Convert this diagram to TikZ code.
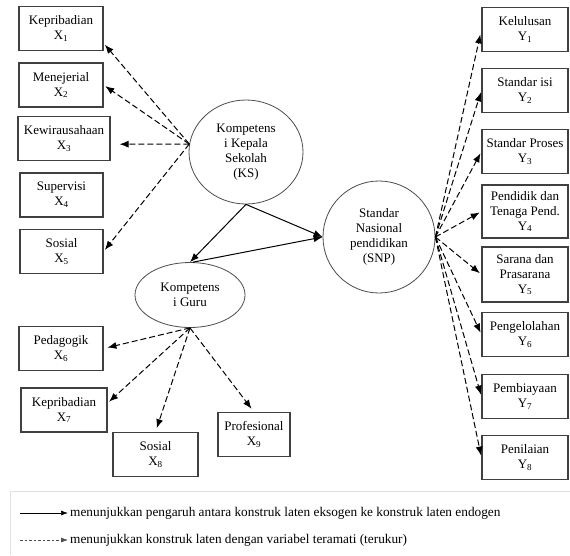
\documentclass[tikz,border=0pt]{standalone}
\usepackage{fontspec}
\setmainfont{Liberation Serif}
\usetikzlibrary{shapes.geometric}
\usetikzlibrary{arrows.meta}
\newcommand{\teks}{\fontsize{13}{15}\selectfont}
\tikzset{indik/.style={rectangle, draw=black!75, line width=1.1pt, align=center, inner sep=0pt, minimum width=84pt, minimum height=44pt, font=\teks}}
\tikzset{laten/.style={ellipse, draw=black!70, line width=0.8pt, align=center, inner sep=0pt, font=\teks}}
\tikzset{jalur/.style={line width=1pt, -{Latex[length=9pt,width=7pt]}}}
\tikzset{muat/.style={jalur, dash pattern=on 6pt off 3pt, shorten >=2pt}}

\begin{document}
\begin{tikzpicture}[x=1pt,y=-1pt]
\useasboundingbox (0,0) rectangle (570,555);

\node[laten, minimum width=114pt, minimum height=104pt] (ks) at (246,152) {Kompetens\\i Kepala\\Sekolah\\(KS)};
\node[laten, minimum width=110pt, minimum height=65pt] (kg) at (190,295) {Kompetens\\i Guru};
\node[laten, minimum width=112pt, minimum height=112pt] (snp) at (379,237) {Standar\\Nasional\\pendidikan\\(SNP)};

\draw[jalur] (ks.south) -- (kg.north);
\draw[jalur] (ks.south) -- (snp.west);
\draw[jalur] (kg.85) -- (snp.west);

\node[indik] (x1) at (61,28.5) {Kepribadian\\X\textsubscript{1}}; \draw[muat] (ks.172) -- (x1.-19);
\node[indik] (x2) at (61,85) {Menejerial\\X\textsubscript{2}}; \draw[muat] (ks.172) -- (x2.east);
\node[indik, minimum width=92pt] (x3) at (64,138.5) {Kewirausahaan\\X\textsubscript{3}}; \draw[muat, shorten >=9pt] (ks.172) -- (x3.-7);
\node[indik, minimum width=83pt] (x4) at (61.5,195) {Supervisi\\X\textsubscript{4}};
\node[indik, minimum width=83pt] (x5) at (61.5,251.5) {Sosial\\X\textsubscript{5}}; \draw[muat] (ks.172) -- (x5.east);

\node[indik] (x6) at (61,348.5) {Pedagogik\\X\textsubscript{6}}; \draw[muat, shorten >=4pt] (kg.south) -- (x6.east);
\node[indik, minimum width=86pt] (x7) at (64,410) {Kepribadian\\X\textsubscript{7}}; \draw[muat] (kg.south) -- (x7.9);
\node[indik, minimum width=85pt] (x8) at (155.5,454.5) {Sosial\\X\textsubscript{8}}; \draw[muat, shorten >=4pt] (kg.south) -- (x8.north);
\node[indik, minimum width=72pt] (x9) at (254,434.5) {Profesional\\X\textsubscript{9}}; \draw[muat, shorten >=4pt] (kg.south) -- (x9.north);

\node[indik, minimum width=86pt] (y1) at (525,29.5) {Kelulusan\\Y\textsubscript{1}}; \draw[muat, shorten >=5pt] (snp.east) -- (y1.west);
\node[indik, minimum width=86pt] (y2) at (525,90.5) {Standar isi\\Y\textsubscript{2}}; \draw[muat] (snp.east) -- (y2.west);
\node[indik, minimum width=86pt] (y3) at (525,151.5) {Standar Proses\\Y\textsubscript{3}}; \draw[muat] (snp.east) -- (y3.west);
\node[indik, minimum width=86pt, minimum height=53pt] (y4) at (525,211.5) {Pendidik dan\\Tenaga Pend.\\Y\textsubscript{4}}; \draw[muat] (snp.east) -- (y4.west);
\node[indik, minimum width=86pt, minimum height=55pt] (y5) at (525,274.5) {Sarana dan\\Prasarana\\Y\textsubscript{5}}; \draw[muat] (snp.east) -- (y5.west);
\node[indik, minimum width=86pt] (y6) at (525,334.5) {Pengelolahan\\Y\textsubscript{6}}; \draw[muat] (snp.east) -- (y6.west);
\node[indik, minimum width=86pt] (y7) at (525,396.5) {Pembiayaan\\Y\textsubscript{7}}; \draw[muat] (snp.east) -- (y7.west);
\node[indik, minimum width=86pt] (y8) at (525,457.5) {Penilaian\\Y\textsubscript{8}}; \draw[muat] (snp.east) -- (y8.west);

% keterangan
\draw[black!12] (10,555) -- (10,491) -- (570,491);
\node[anchor=west, inner sep=2pt, font=\fontsize{13.3}{15}\selectfont] (ket1) at (68,513) {menunjukkan pengaruh antara konstruk laten eksogen ke konstruk laten endogen};
\node[anchor=west, inner sep=2pt, font=\fontsize{13.3}{15}\selectfont] (ket2) at (68,540) {menunjukkan konstruk laten dengan variabel teramati (terukur)};
\coordinate (a1) at (20,513);
\coordinate (a2) at (20,540);
\draw[line width=0.7pt, -{Latex[length=7pt,width=5pt]}] (a1) -- (ket1.west);
\draw[line width=0.6pt, black!70, dash pattern=on 2.5pt off 2pt, -{Latex[length=7pt,width=5pt]}] (a2) -- (ket2.west);

\end{tikzpicture}
\end{document}
